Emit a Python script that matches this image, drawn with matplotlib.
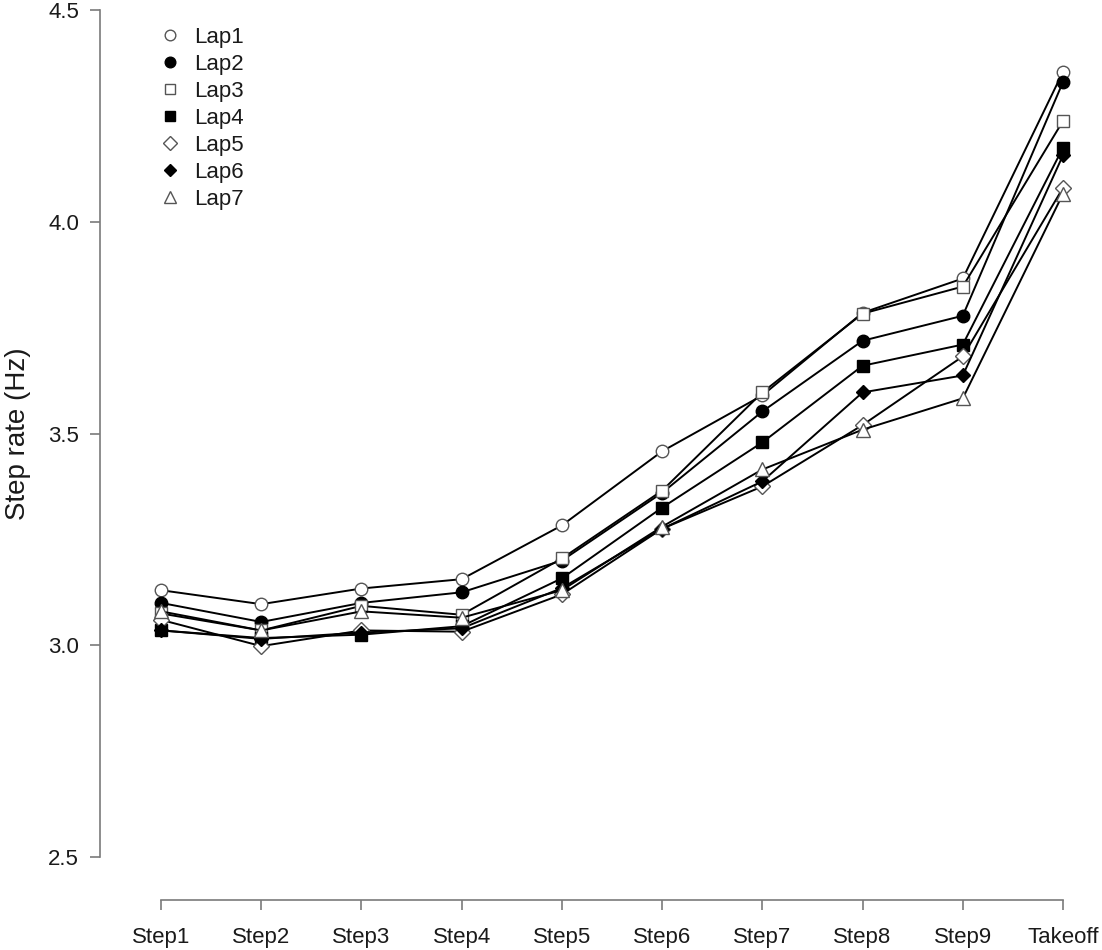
import matplotlib
matplotlib.use("Agg")
import matplotlib.pyplot as plt
from matplotlib.lines import Line2D

plt.rcParams['font.family'] = ['Liberation Sans', 'DejaVu Sans']

steps = ["Step1", "Step2", "Step3", "Step4", "Step5", "Step6", "Step7", "Step8", "Step9", "Takeoff"]
laps = ["Lap1", "Lap2", "Lap3", "Lap4", "Lap5", "Lap6", "Lap7"]

lap1 = [3.130, 3.097, 3.134, 3.156, 3.283, 3.458, 3.590, 3.785, 3.866, 4.354]
lap2 = [3.100, 3.055, 3.100, 3.125, 3.200, 3.360, 3.552, 3.719, 3.778, 4.330]
lap3 = [3.075, 3.035, 3.093, 3.072, 3.205, 3.365, 3.597, 3.783, 3.847, 4.238]
lap4 = [3.035, 3.017, 3.025, 3.045, 3.158, 3.325, 3.479, 3.660, 3.710, 4.175]
lap5 = [3.060, 2.998, 3.035, 3.032, 3.120, 3.275, 3.375, 3.520, 3.682, 4.080]
lap6 = [3.035, 3.015, 3.030, 3.040, 3.135, 3.275, 3.387, 3.597, 3.637, 4.157]
lap7 = [3.080, 3.035, 3.080, 3.065, 3.130, 3.280, 3.415, 3.509, 3.583, 4.066]
series = [lap1, lap2, lap3, lap4, lap5, lap6, lap7]

yticks = [2.5, 3.0, 3.5, 4.0, 4.5]
ytick_labels = ["2.5", "3.0", "3.5", "4.0", "4.5"]

styles = [
    dict(marker='o', mfc='white', ms=9),
    dict(marker='o', mfc='black', ms=9),
    dict(marker='s', mfc='white', ms=8),
    dict(marker='s', mfc='black', ms=8),
    dict(marker='D', mfc='white', ms=8),
    dict(marker='D', mfc='black', ms=7),
    dict(marker='^', mfc='white', ms=10),
]

W, H = 1102, 950
fig = plt.figure(figsize=(W / 100, H / 100), dpi=100)
left, right, top, bottom = 100, 1098, 10, 857
ax = fig.add_axes([left / W, 1 - bottom / H, (right - left) / W, (bottom - top) / H])

x = list(range(1, len(steps) + 1))
pxu = (1063 - 161) / 9
ax.set_xlim(1 - (161 - left) / pxu, 10 + (right - 1063) / pxu)
ax.set_ylim(2.5, 4.5)

txtc = '#1a1a1a'
spc = '#7a7a7a'
for vals, st in zip(series, styles):
    mec = '#555555' if st['mfc'] == 'white' else 'black'
    ax.plot(x, vals, color='black', lw=1.4, marker=st['marker'], mfc=st['mfc'],
            mec=mec, mew=1.0, ms=st['ms'], clip_on=False, zorder=3)

for s in ['top', 'right']:
    ax.spines[s].set_visible(False)
ax.spines['left'].set_color(spc)
ax.spines['bottom'].set_color(spc)
ax.spines['left'].set_linewidth(1.2)
ax.spines['bottom'].set_linewidth(1.2)
ax.spines['bottom'].set_position(('outward', (900 - bottom) * 0.72))
ax.spines['bottom'].set_bounds(1, 10)

ax.set_xticks(x)
ax.set_xticklabels(steps)
ax.set_yticks(yticks)
ax.set_yticklabels(ytick_labels)
ax.tick_params(axis='both', colors=spc, length=7.2, width=1.2, labelsize=16, labelcolor=txtc)
ax.tick_params(axis='x', pad=12)
ax.tick_params(axis='y', pad=8)

ax.set_ylabel("Step rate (Hz)", fontsize=20, color=txtc, labelpad=12)

handles = []
for lab, st in zip(laps, styles):
    mec = '#555555' if st['mfc'] == 'white' else 'black'
    handles.append(Line2D([], [], ls='none', marker=st['marker'], mfc=st['mfc'], mec=mec,
                          mew=1.0, ms=st['ms'] * 0.85))
leg = ax.legend(handles, laps, loc='upper left', bbox_to_anchor=(159 / W, 1 - 27 / H),
                bbox_transform=fig.transFigure, frameon=False, fontsize=16,
                handlelength=1.0, handletextpad=0.6, labelspacing=0.27, borderpad=0,
                borderaxespad=0)
for t in leg.get_texts():
    t.set_color(txtc)

fig.savefig("out.png", dpi=100)
